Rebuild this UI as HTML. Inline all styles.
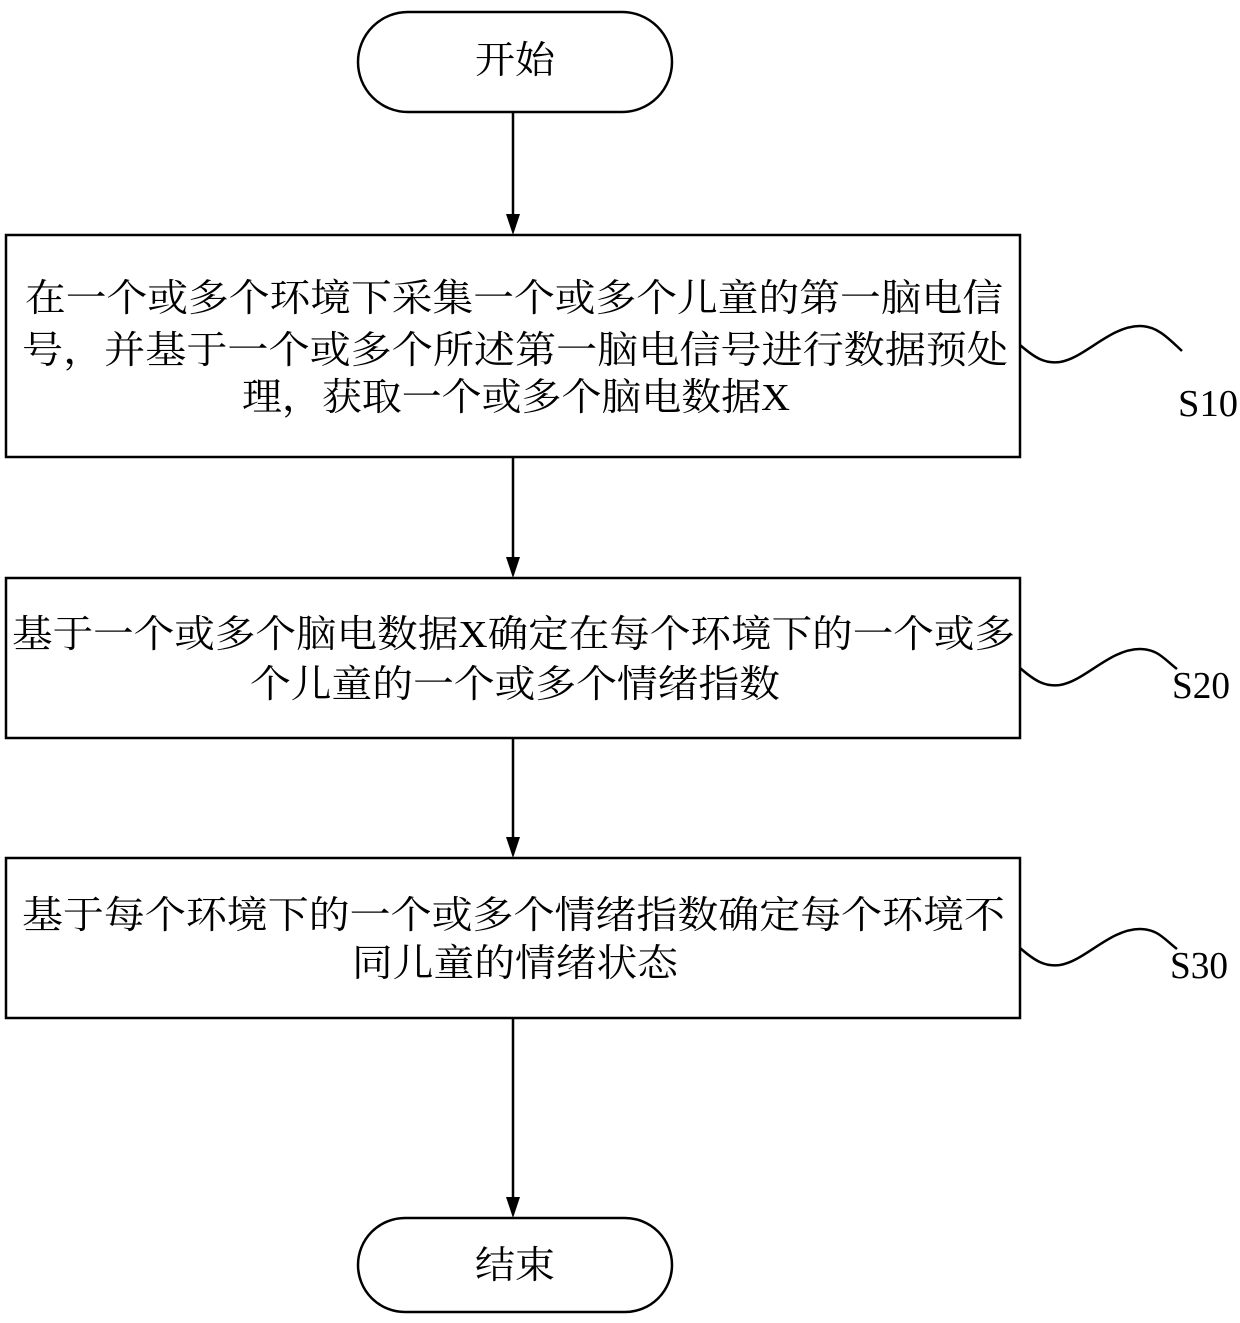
<!DOCTYPE html>
<html><head><meta charset="utf-8"><style>html,body{margin:0;padding:0;background:#fff}</style></head>
<body>
<svg width="1240" height="1318" viewBox="0 0 1240 1318" xmlns="http://www.w3.org/2000/svg" font-family="'Liberation Serif','Noto Serif CJK SC',serif" font-size="38" fill="#000">
<defs><marker id="a" markerWidth="10" markerHeight="14" refX="5" refY="14" orient="auto" markerUnits="userSpaceOnUse"><path d="M0,0 L10,0 L5,14 Z" transform="rotate(-90 5 7) translate(0,0)" fill="#000"/></marker></defs>
<g fill="none" stroke="#000" stroke-width="2.5">
<rect x="358" y="12" width="314" height="100" rx="50"/>
<rect x="358" y="1218" width="314" height="94" rx="47"/>
<rect x="6" y="235" width="1014" height="222"/>
<rect x="6" y="578" width="1014" height="160"/>
<rect x="6" y="858" width="1014" height="160"/>
<path d="M1020,345 C1035,358 1045,364 1060,362 C1085,358 1110,326 1140,326 C1158,326 1170,340 1182,351"/>
<path d="M1020,668 C1035,681 1045,687 1060,685 C1085,681 1110,649 1140,649 C1158,649 1165,660 1177,669"/>
<path d="M1020,948 C1035,961 1045,967 1060,965 C1085,961 1110,929 1140,929 C1158,929 1165,940 1177,949"/>
<line x1="513" y1="112" x2="513" y2="216"/>
<line x1="513" y1="457" x2="513" y2="559"/>
<line x1="513" y1="738" x2="513" y2="839"/>
<line x1="513" y1="1018" x2="513" y2="1199"/>
</g>
<g>
<path d="M506,214 L520,214 L513,235 Z"/>
<path d="M506,557 L520,557 L513,578 Z"/>
<path d="M506,837 L520,837 L513,858 Z"/>
<path d="M506,1197 L520,1197 L513,1218 Z"/>
</g>
<text x="475" y="73" textLength="80" lengthAdjust="spacingAndGlyphs">开始</text>
<text x="475" y="1278" textLength="80" lengthAdjust="spacingAndGlyphs">结束</text>
<text x="25" y="311" textLength="978" lengthAdjust="spacingAndGlyphs">在一个或多个环境下采集一个或多个儿童的第一脑电信</text>
<text x="22" y="363" textLength="986" lengthAdjust="spacingAndGlyphs">号，并基于一个或多个所述第一脑电信号进行数据预处</text>
<text x="242" y="410" textLength="548" lengthAdjust="spacingAndGlyphs">理，获取一个或多个脑电数据X</text>
<text x="12" y="647" textLength="1003" lengthAdjust="spacingAndGlyphs">基于一个或多个脑电数据X确定在每个环境下的一个或多</text>
<text x="250" y="697" textLength="530" lengthAdjust="spacingAndGlyphs">个儿童的一个或多个情绪指数</text>
<text x="22" y="928" textLength="983" lengthAdjust="spacingAndGlyphs">基于每个环境下的一个或多个情绪指数确定每个环境不</text>
<text x="352" y="976" textLength="326" lengthAdjust="spacingAndGlyphs">同儿童的情绪状态</text>
<text x="1178" y="416" textLength="60" lengthAdjust="spacingAndGlyphs">S10</text>
<text x="1172" y="698" textLength="58" lengthAdjust="spacingAndGlyphs">S20</text>
<text x="1170" y="978" textLength="58" lengthAdjust="spacingAndGlyphs">S30</text>
</svg>
</body></html>
